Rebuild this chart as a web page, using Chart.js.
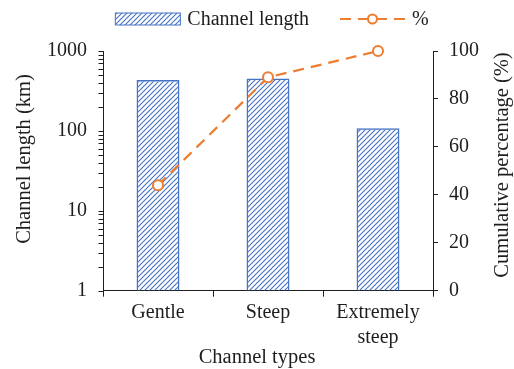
<!DOCTYPE html>
<html>
<head>
<meta charset="utf-8">
<script src="https://cdn.jsdelivr.net/npm/chart.js@4"></script>
<style>
  html, body { margin: 0; padding: 0; background: #fff; }
  #wrap { width: 514px; height: 369px; }
</style>
</head>
<body>
<div id="wrap"><canvas id="myChart" width="514" height="369"></canvas></div>
<script>
// Donnees
const categories = [['Gentle'], ['Steep'], ['Extremely', 'steep']];
const channelLength = [435, 452, 108];
const cumulativePct = [44, 89, 100];
const logMajor = [1, 10, 100, 1000];
const pctTicks = [0, 20, 40, 60, 80, 100];

const FONT = 'Liberation Serif';
const TXT = '#1e1e1e';
const BLUE = '#4472C4';
const ORANGE = '#ED7D31';

// Motif hachure pour les barres
function makeHatch(color) {
    const s = 5;
    const c = document.createElement('canvas');
    c.width = s; c.height = s;
    const g = c.getContext('2d');
    g.strokeStyle = color;
    g.lineWidth = 1.1;
    g.beginPath();
    g.moveTo(0, s); g.lineTo(s, 0);
    g.moveTo(-s / 2, s / 2); g.lineTo(s / 2, -s / 2);
    g.moveTo(s / 2, s * 1.5); g.lineTo(s * 1.5, s / 2);
    g.stroke();
    return g.createPattern(c, 'repeat');
}
const hatch = makeHatch(BLUE);

// ticks mineurs du log (1..9, 10..90, ...)
const logTicks = [];
for (let e = 0; e < 3; e++) {
    for (let k = 1; k < 10; k++) logTicks.push(k * Math.pow(10, e));
}
logTicks.push(1000);

// Petits traits de l'axe log (majeurs + mineurs)
const logTickMarks = {
    id: 'logTickMarks',
    afterDraw(chart) {
        const scale = chart.scales.y;
        const ctx = chart.ctx;
        const xAxis = Math.round(scale.right) + 0.5;
        ctx.save();
        ctx.strokeStyle = TXT;
        ctx.lineWidth = 1;
        ctx.beginPath();
        logTicks.forEach(v => {
            const y = Math.round(scale.getPixelForValue(v)) + 0.5;
            ctx.moveTo(xAxis - 5, y);
            ctx.lineTo(xAxis, y);
        });
        ctx.stroke();
        ctx.restore();
    }
};

// Titres des axes (les deux titres verticaux se lisent de bas en haut)
const axisTitles = {
    id: 'axisTitles',
    afterDraw(chart) {
        const ctx = chart.ctx;
        const area = chart.chartArea;
        ctx.save();
        ctx.fillStyle = TXT;
        ctx.font = `20.5px "${FONT}"`;
        ctx.textAlign = 'center';
        ctx.textBaseline = 'middle';
        ctx.fillText('Channel types', chart.width / 2, area.bottom + 67);

        ctx.save();
        ctx.translate(area.left - 78, area.top + 108);
        ctx.rotate(-Math.PI / 2);
        ctx.fillText('Channel length (km)', 0, 0);
        ctx.restore();

        ctx.save();
        ctx.translate(area.right + 70, area.top + 114);
        ctx.rotate(-Math.PI / 2);
        ctx.fillText('Cumulative percentage (%)', 0, 0);
        ctx.restore();
        ctx.restore();
    }
};

// Legende dessinee a la main (ligne pointillee + rond)
const customLegend = {
    id: 'customLegend',
    afterDraw(chart) {
        const ctx = chart.ctx;
        const area = chart.chartArea;
        ctx.save();
        ctx.font = `20px "${FONT}"`;
        ctx.textBaseline = 'middle';
        const t1 = 'Channel length', t2 = '%';
        const w1 = ctx.measureText(t1).width, w2 = ctx.measureText(t2).width;
        const boxW = 65, gap = 7, between = 31;
        const total = boxW + gap + w1 + between + boxW + gap + w2;
        let x = (area.left + area.right) / 2 + 4 - total / 2;
        const y = 19;

        ctx.fillStyle = hatch;
        ctx.fillRect(x, y - 6, boxW, 12);
        ctx.strokeStyle = BLUE;
        ctx.lineWidth = 1;
        ctx.strokeRect(x, y - 6, boxW, 12);
        x += boxW + gap;
        ctx.fillStyle = TXT;
        ctx.fillText(t1, x, y + 1);
        x += w1 + between;

        ctx.strokeStyle = ORANGE;
        ctx.lineWidth = 2;
        ctx.setLineDash([11, 7]);
        ctx.beginPath();
        ctx.moveTo(x, y); ctx.lineTo(x + boxW, y);
        ctx.stroke();
        ctx.setLineDash([]);
        ctx.beginPath();
        ctx.arc(x + boxW / 2, y, 4.5, 0, Math.PI * 2);
        ctx.fillStyle = '#fff';
        ctx.fill();
        ctx.stroke();
        x += boxW + gap;
        ctx.fillStyle = TXT;
        ctx.fillText(t2, x, y + 1);
        ctx.restore();
    }
};

const config = {
    data: {
        labels: categories,
        datasets: [
            {
                type: 'line',
                label: '%',
                data: cumulativePct,
                yAxisID: 'y1',
                borderColor: ORANGE,
                borderWidth: 2.25,
                borderDash: [11, 7],
                pointRadius: 5,
                pointBorderWidth: 2,
                pointBackgroundColor: '#fff',
                pointBorderColor: ORANGE,
                tension: 0,
                clip: false,
                order: 0
            },
            {
                type: 'bar',
                label: 'Channel length',
                data: channelLength,
                yAxisID: 'y',
                backgroundColor: hatch,
                borderColor: BLUE,
                borderWidth: 1.5,
                categoryPercentage: 1,
                barPercentage: 0.39,
                order: 1
            }
        ]
    },
    options: {
        responsive: false,
        animation: false,
        layout: { padding: { top: 51, left: 36, right: 24, bottom: 14.3 } },
        plugins: {
            legend: { display: false },
            tooltip: { enabled: false }
        },
        scales: {
            x: {
                grid: { display: true, drawOnChartArea: false, offset: true, tickLength: 6, color: TXT },
                border: { color: TXT, width: 1 },
                ticks: { color: TXT, padding: 4, font: { family: FONT, size: 20, lineHeight: 1.25 }, maxRotation: 0 }
            },
            y: {
                type: 'logarithmic',
                position: 'left',
                min: 1,
                max: 1000,
                afterBuildTicks: axis => { axis.ticks = logMajor.map(v => ({ value: v, major: true })); },
                grid: { display: false, drawTicks: true, tickLength: 5 },
                border: { color: TXT, width: 1 },
                ticks: {
                    autoSkip: false,
                    color: TXT,
                    padding: 11,
                    font: { family: FONT, size: 20 },
                    callback: v => String(v)
                }
            },
            y1: {
                type: 'linear',
                position: 'right',
                min: 0,
                max: 100,
                afterBuildTicks: axis => { axis.ticks = pctTicks.map(v => ({ value: v })); },
                grid: { display: true, drawOnChartArea: false, tickLength: 5, color: TXT },
                border: { color: TXT, width: 1 },
                ticks: { color: TXT, padding: 11, font: { family: FONT, size: 20 } }
            }
        }
    },
    plugins: [logTickMarks, axisTitles, customLegend]
};

const ctx = document.getElementById('myChart').getContext('2d');
const chart = new Chart(ctx, config);
</script>
</body>
</html>
